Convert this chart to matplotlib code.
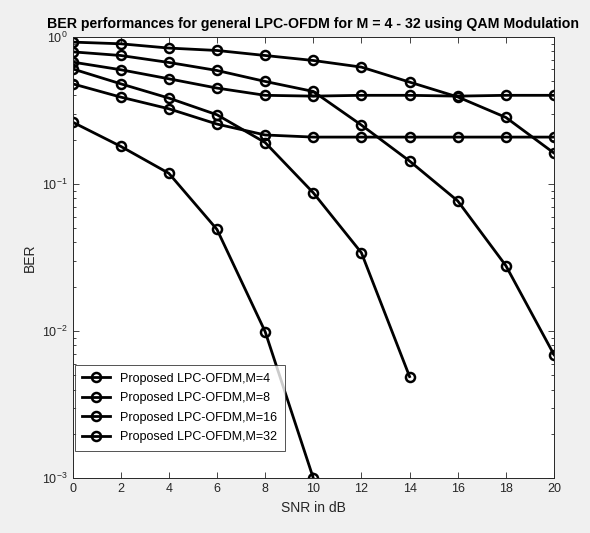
import numpy as np
import matplotlib
matplotlib.use('Agg')
import matplotlib.pyplot as plt

plt.rcParams['font.family'] = ['Liberation Sans', 'DejaVu Sans']
plt.rcParams['mathtext.fontset'] = 'custom'
plt.rcParams['mathtext.rm'] = 'Liberation Sans'

# Data
snr = [0, 2, 4, 6, 8, 10, 12, 14, 16, 18, 20]
ber1 = [0.92, 0.896, 0.838, 0.807, 0.746, 0.69, 0.622, 0.492, 0.39, 0.283, 0.162]
ber2 = [0.79, 0.746, 0.669, 0.59, 0.497, 0.425, 0.251, 0.143, 0.0766, 0.0278, 0.0069]
ber3 = [0.673, 0.597, 0.518, 0.448, 0.40, 0.395, 0.40, 0.40, 0.395, 0.40, 0.40]
ber4 = [0.605, 0.479, 0.383, 0.295, 0.191, 0.087, 0.034, 0.0049]
ber5 = [0.479, 0.389, 0.324, 0.255, 0.215, 0.208, 0.208, 0.208, 0.208, 0.208, 0.208]
ber6 = [0.263, 0.18, 0.118, 0.049, 0.0099, 0.001]

labels = ['Proposed LPC-OFDM,M=4', 'Proposed LPC-OFDM,M=8',
          'Proposed LPC-OFDM,M=16', 'Proposed LPC-OFDM,M=32']

fig = plt.figure(figsize=(5.9, 5.33), dpi=100, facecolor='#f0f0f0')
ax = fig.add_axes([0.123, 0.103, 0.816, 0.828])
ax.set_facecolor('white')

style = dict(color='black', marker='o', markersize=6.5, markerfacecolor='none',
             markeredgewidth=1.8, linewidth=2)
all_series = [ber1, ber2, ber3, ber4, ber5, ber6]
for i, b in enumerate(all_series):
    lab = labels[i] if i < 4 else None
    ax.semilogy(snr[:len(b)], b, label=lab, **style)

ax.set_xlim(0, 20)
ax.set_ylim(1e-3, 1)
ax.set_xticks(snr)
ax.tick_params(which='both', direction='in', top=True, right=True,
               labelsize=9, colors='#262626', width=0.6)
ax.tick_params(which='major', length=4)
ax.tick_params(which='minor', length=2)
for s in ax.spines.values():
    s.set_color('#262626')
    s.set_linewidth(0.7)

ax.set_title('BER performances for general LPC-OFDM for M = 4 - 32 using QAM Modulation',
             fontsize=10.2, fontweight='bold', pad=6)
ax.set_xlabel('SNR in dB', fontsize=10, color='#262626')
ax.set_ylabel('BER', fontsize=10, color='#262626')

leg = ax.legend(loc='lower left', bbox_to_anchor=(0.005, 0.062), borderaxespad=0,
                fontsize=9, frameon=True, fancybox=False, edgecolor='#262626',
                handlelength=2.2, borderpad=0.6, labelspacing=0.6)
leg.get_frame().set_linewidth(0.7)

fig.savefig('out.png', dpi=100, facecolor=fig.get_facecolor())
